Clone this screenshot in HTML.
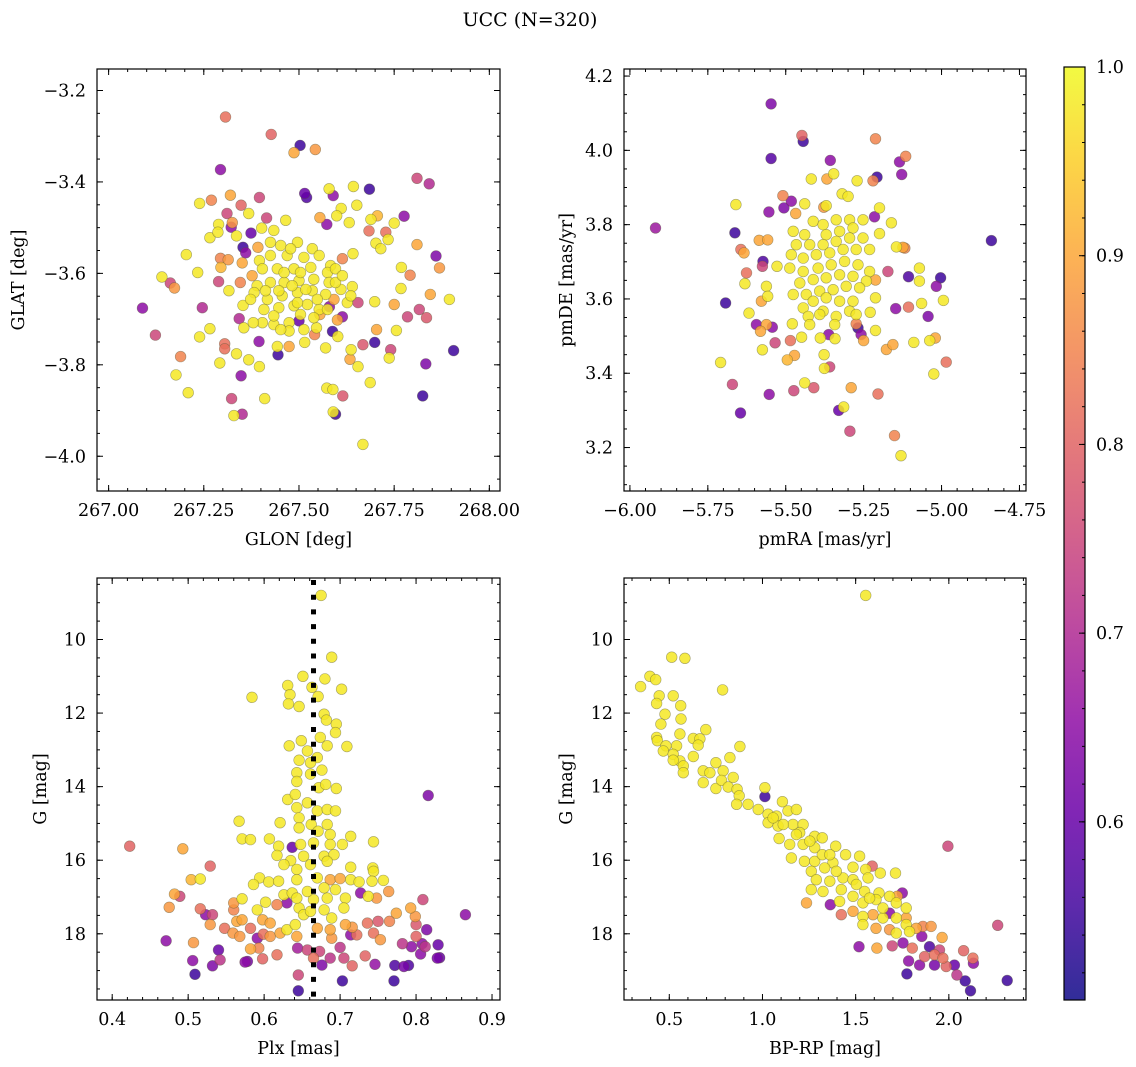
<!DOCTYPE html>
<html><head><meta charset="utf-8"><style>
html,body{margin:0;padding:0;background:#fff;}
svg{display:block;font-family:"DejaVu Serif","Liberation Serif",serif;}
</style></head><body>
<svg id="fig" width="1136" height="1067" viewBox="0 0 1136 1067" xmlns="http://www.w3.org/2000/svg">
<rect width="1136" height="1067" fill="#fff"/>
<text x="530" y="26" font-size="19" text-anchor="middle">UCC (N=320)</text>
<g id="layer"></g>
</svg>
<script>
// ---------- Panel 1: GLON / GLAT ----------
const p1Glon=[267.307,267.427,267.503,267.487,267.543,267.294,267.810,267.842,267.685,267.643,
267.579,267.515,267.520,267.590,267.320,267.270,267.239,267.396,267.348,267.368,
267.311,267.611,267.652,267.599,267.776,267.706,267.689,267.555,267.573,267.632,
267.750,267.289,267.325,267.322,267.415,267.465,267.266,267.287,267.336,267.374,
267.402,267.434,267.684,267.728,267.702,267.734,267.715,267.810,267.860,267.869,
267.769,267.792,267.642,267.614,267.353,267.360,267.392,267.294,267.314,267.295,
267.351,267.396,267.204,267.234,267.140,267.162,267.173,267.289,267.346,267.377,
267.316,267.089,267.246,267.123,267.189,267.177,267.209,267.266,267.239,267.343,
267.355,267.353,267.305,267.305,267.336,267.292,267.368,267.396,267.348,267.323,
267.351,267.329,267.410,267.395,267.445,267.443,267.474,267.404,267.380,267.434,
267.500,267.515,267.541,267.546,267.588,267.602,267.570,267.601,267.614,267.580,
267.555,267.655,267.627,267.640,267.592,267.699,267.750,267.768,267.845,267.895,
267.785,267.816,267.835,267.704,267.756,267.668,267.699,267.741,267.737,267.637,
267.634,267.655,267.906,267.833,267.825,267.687,267.573,267.589,267.615,267.596,
267.590,267.668,
267.452,267.496,267.535,267.425,267.469,267.513,267.553,267.583,267.404,267.443,
267.487,267.531,267.575,267.596,267.390,267.425,267.461,267.500,267.539,267.579,
267.382,267.417,267.456,267.496,267.535,267.570,267.610,267.408,267.447,267.487,
267.522,267.553,267.434,267.474,267.504,267.539,267.474,267.513,267.452,267.482,
267.518,267.447,267.496,267.548,267.412,267.596,267.614,267.461,267.504,267.478,
267.425,267.373,267.636,267.575];
const p1Glat=[-3.258,-3.296,-3.320,-3.336,-3.329,-3.373,-3.392,-3.404,-3.416,-3.410,
-3.415,-3.425,-3.434,-3.430,-3.429,-3.440,-3.447,-3.434,-3.451,-3.469,
-3.469,-3.458,-3.451,-3.474,-3.475,-3.474,-3.482,-3.478,-3.493,-3.489,
-3.490,-3.493,-3.489,-3.499,-3.479,-3.484,-3.522,-3.510,-3.518,-3.512,
-3.501,-3.506,-3.507,-3.510,-3.534,-3.526,-3.546,-3.537,-3.562,-3.588,
-3.587,-3.604,-3.557,-3.568,-3.543,-3.555,-3.543,-3.567,-3.570,-3.587,
-3.577,-3.572,-3.559,-3.598,-3.608,-3.621,-3.632,-3.618,-3.620,-3.605,
-3.638,-3.676,-3.675,-3.735,-3.782,-3.822,-3.861,-3.721,-3.739,-3.699,
-3.719,-3.670,-3.754,-3.765,-3.776,-3.796,-3.789,-3.804,-3.824,-3.874,
-3.908,-3.911,-3.874,-3.749,-3.778,-3.760,-3.760,-3.708,-3.708,-3.712,
-3.704,-3.751,-3.734,-3.719,-3.727,-3.738,-3.763,-3.702,-3.695,-3.673,
-3.690,-3.664,-3.664,-3.629,-3.657,-3.662,-3.668,-3.633,-3.646,-3.657,
-3.695,-3.679,-3.697,-3.723,-3.725,-3.756,-3.751,-3.767,-3.785,-3.767,
-3.788,-3.804,-3.769,-3.798,-3.868,-3.839,-3.851,-3.854,-3.868,-3.908,
-3.903,-3.974,
-3.539,-3.532,-3.546,-3.561,-3.561,-3.565,-3.561,-3.583,-3.590,-3.590,
-3.590,-3.587,-3.598,-3.590,-3.627,-3.620,-3.620,-3.616,-3.613,-3.620,
-3.642,-3.657,-3.649,-3.642,-3.638,-3.646,-3.635,-3.679,-3.675,-3.671,
-3.668,-3.679,-3.693,-3.708,-3.690,-3.697,-3.726,-3.723,-3.723,-3.627,
-3.635,-3.638,-3.664,-3.657,-3.638,-3.620,-3.605,-3.598,-3.598,-3.546,
-3.532,-3.657,-3.649,-3.679];
const p1Prob=[.82,.80,.55,.90,.88,.65,.75,.70,.55,.98,
.98,.60,.57,.65,.90,.85,.98,.75,.80,.98,
.75,.98,.98,.98,.65,.92,.98,.90,.65,.98,
.98,.98,.88,.65,.75,.98,.98,.98,.98,.60,
.98,.98,.82,.82,.98,.98,.98,.90,.63,.88,
.98,.85,.98,.85,.55,.65,.90,.85,.88,.92,
.90,.98,.98,.98,.98,.75,.88,.75,.85,.90,
.98,.65,.70,.75,.85,.98,.98,.98,.98,.70,
.98,.98,.82,.82,.98,.98,.98,.98,.65,.75,
.70,.98,.98,.65,.55,.98,.90,.98,.98,.98,
.60,.98,.85,.98,.55,.98,.98,.90,.65,.65,
.90,.75,.98,.98,.90,.98,.90,.98,.90,.98,
.75,.75,.78,.90,.98,.78,.55,.75,.98,.98,
.90,.98,.55,.63,.55,.98,.98,.98,.78,.55,
.98,.98,
.98,.98,.98,.98,.98,.98,.98,.98,.98,.98,
.98,.98,.98,.98,.98,.98,.98,.98,.98,.98,
.98,.98,.98,.98,.98,.98,.98,.98,.98,.98,
.98,.98,.98,.98,.98,.98,.98,.98,.98,.98,
.98,.98,.98,.98,.98,.98,.98,.98,.98,.98,
.98,.98,.98,.98];
const p1XTicks=[267.00,267.25,267.50,267.75,268.00];
const p1YTicks=[-4.0,-3.8,-3.6,-3.4,-3.2];

// ---------- Panel 2: pmRA / pmDE ----------
const p2PmRA=[-5.547,-5.448,-5.444,-5.547,-5.212,-5.357,-5.115,-5.135,-5.128,-5.207,
-5.220,-5.418,-5.368,-5.346,-5.271,-5.319,-5.300,-5.918,-5.660,-5.663,
-5.509,-5.482,-5.506,-5.439,-5.554,-5.468,-5.378,-5.370,-5.199,-5.215,
-5.161,-5.199,-4.840,-5.585,-5.558,-5.644,-5.634,-5.573,-5.575,-5.626,
-5.631,-5.693,-5.528,-5.578,-5.562,-5.558,-5.618,-5.594,-5.562,-5.543,
-5.581,-5.534,-5.575,-5.485,-5.449,-5.479,-5.472,-5.495,-5.709,-5.671,
-5.645,-5.553,-5.474,-5.439,-5.410,-5.377,-5.359,-5.376,-5.389,-5.342,
-5.362,-5.290,-5.330,-5.314,-5.294,-5.204,-5.151,-5.130,-5.274,-5.268,
-5.258,-5.250,-5.212,-5.177,-5.156,-5.089,-5.038,-5.020,-4.985,-5.025,
-5.106,-5.147,-5.064,-5.043,-4.994,-5.017,-5.003,-5.106,-5.071,-5.071,
-5.172,-5.212,-5.212,-5.229,-5.145,-5.118,-5.124,
-5.476,-5.466,-5.439,-5.412,-5.380,-5.338,-5.295,-5.252,-5.284,-5.327,
-5.370,-5.423,-5.380,-5.338,-5.295,-5.252,-5.231,-5.274,-5.316,-5.359,
-5.402,-5.444,-5.482,-5.487,-5.444,-5.396,-5.354,-5.311,-5.268,-5.231,
-5.241,-5.284,-5.327,-5.370,-5.412,-5.455,-5.476,-5.434,-5.391,-5.348,
-5.306,-5.263,-5.284,-5.327,-5.370,-5.412,-5.444,-5.428,-5.380,-5.338,
-5.295,-5.274,-5.343,-5.423,-5.391];
const p2PmDE=[4.125,4.040,4.024,3.978,4.031,3.973,3.984,3.969,3.935,3.928,
3.918,3.923,3.923,3.937,3.918,3.883,3.876,3.791,3.854,3.778,
3.878,3.863,3.845,3.856,3.834,3.830,3.847,3.851,3.845,3.821,
3.805,3.776,3.757,3.758,3.759,3.733,3.724,3.701,3.688,3.670,
3.641,3.589,3.688,3.594,3.634,3.607,3.562,3.531,3.531,3.524,
3.513,3.482,3.463,3.488,3.497,3.533,3.448,3.436,3.429,3.370,
3.293,3.343,3.353,3.374,3.361,3.450,3.417,3.413,3.495,3.493,
3.504,3.361,3.300,3.309,3.244,3.344,3.232,3.178,3.533,3.522,
3.504,3.488,3.515,3.464,3.477,3.483,3.488,3.495,3.430,3.398,
3.578,3.574,3.588,3.553,3.596,3.634,3.657,3.660,3.683,3.648,
3.674,3.651,3.603,3.564,3.740,3.737,3.739,
3.782,3.746,3.773,3.809,3.800,3.813,3.813,3.813,3.791,3.782,
3.773,3.746,3.746,3.755,3.764,3.764,3.733,3.733,3.733,3.724,
3.719,3.710,3.719,3.683,3.674,3.683,3.692,3.701,3.692,3.674,
3.648,3.661,3.665,3.657,3.652,3.643,3.612,3.612,3.621,3.625,
3.634,3.630,3.594,3.594,3.603,3.594,3.576,3.553,3.567,3.553,
3.567,3.558,3.531,3.531,3.558];
const p2Prob=[.63,.80,.55,.58,.85,.65,.85,.65,.65,.55,
.85,.98,.90,.98,.98,.98,.98,.67,.98,.55,
.85,.65,.63,.98,.65,.90,.88,.98,.98,.65,
.98,.98,.55,.90,.90,.82,.90,.57,.75,.82,
.98,.55,.98,.90,.98,.98,.98,.65,.90,.65,
.90,.75,.98,.82,.98,.98,.90,.92,.98,.75,
.60,.65,.75,.98,.78,.98,.75,.98,.98,.98,
.65,.90,.60,.98,.75,.82,.85,.98,.85,.55,
.65,.90,.98,.90,.90,.98,.98,.90,.82,.98,
.82,.65,.98,.63,.98,.65,.55,.57,.98,.98,
.75,.90,.98,.98,.98,.85,.90,
.98,.98,.98,.98,.98,.98,.98,.98,.98,.98,
.98,.98,.98,.98,.98,.98,.98,.98,.98,.98,
.98,.98,.98,.98,.98,.98,.98,.98,.98,.98,
.98,.98,.98,.98,.98,.98,.98,.98,.98,.98,
.98,.98,.98,.98,.98,.98,.98,.98,.98,.98,
.98,.98,.98,.98,.98];
const p2XTicks=[-6.00,-5.75,-5.50,-5.25,-5.00,-4.75];
const p2YTicks=[3.2,3.4,3.6,3.8,4.0,4.2];

// ---------- Panel 3: Plx / G ----------
const p3Plx=[0.675,0.689,0.651,0.680,0.631,0.663,0.702,0.584,0.634,0.632,
0.646,0.671,0.679,0.682,0.695,0.694,0.674,0.683,0.709,0.633,
0.649,0.657,0.646,0.670,0.661,0.676,0.643,0.661,0.643,0.672,
0.695,0.681,0.816,0.631,0.641,0.657,0.643,0.670,0.683,0.694,
0.646,0.662,0.683,0.567,0.621,0.646,0.671,0.687,0.714,0.571,
0.582,0.607,0.619,0.637,0.648,0.665,0.687,0.703,0.744,0.423,
0.493,0.617,0.635,0.652,0.679,0.692,0.626,0.643,0.661,0.683,
0.529,0.714,0.743,0.744,0.504,0.516,0.594,0.586,0.606,0.619,
0.643,0.670,0.687,0.700,0.714,0.725,0.742,0.757,0.764,0.482,
0.489,0.475,0.516,0.523,0.532,0.529,0.560,0.571,0.560,0.591,
0.602,0.617,0.630,0.626,0.637,0.646,0.665,0.683,0.694,0.707,
0.727,0.737,0.748,0.809,0.793,0.799,0.865,0.774,0.564,0.571,
0.548,0.559,0.568,0.582,0.598,0.608,0.599,0.608,0.591,0.621,
0.630,0.643,0.641,0.652,0.670,0.687,0.689,0.707,0.716,0.689,
0.722,0.736,0.750,0.744,0.753,0.765,0.800,0.814,0.800,0.471,
0.507,0.540,0.506,0.509,0.532,0.542,0.575,0.578,0.582,0.593,
0.598,0.617,0.644,0.657,0.665,0.676,0.673,0.687,0.700,0.705,
0.716,0.733,0.746,0.714,0.782,0.794,0.808,0.812,0.806,0.829,
0.828,0.831,0.772,0.784,0.790,0.771,0.703,0.645,0.645,
0.657,0.679,0.661,0.679,0.705,0.643];
const p3G=[8.80,10.48,11.00,11.07,11.25,11.30,11.35,11.57,11.50,11.75,
11.82,11.55,12.03,12.19,12.30,12.53,12.66,12.89,12.91,12.89,
12.75,13.03,13.28,13.21,13.35,13.55,13.62,13.66,13.86,14.03,
14.05,13.94,14.24,14.35,14.21,14.44,14.57,14.66,14.62,14.66,
14.85,15.03,15.03,14.94,14.98,15.12,15.21,15.30,15.35,15.42,
15.44,15.42,15.62,15.65,15.57,15.53,15.57,15.57,15.50,15.62,
15.69,15.87,16.01,15.89,15.89,15.85,16.12,16.25,16.12,16.03,
16.16,16.19,16.21,16.30,16.53,16.51,16.48,16.66,16.59,16.57,
16.53,16.48,16.53,16.50,16.53,16.59,16.57,16.55,16.85,16.92,
16.98,17.28,17.32,17.48,17.48,17.75,17.16,17.05,17.35,17.35,
17.14,17.21,17.16,16.94,16.89,17.30,17.07,17.03,16.80,17.03,
16.89,16.98,17.03,17.07,17.30,17.53,17.48,17.44,17.66,17.62,
17.85,17.98,18.07,17.85,17.62,17.71,18.01,18.07,18.12,17.98,
17.89,18.07,17.75,17.48,17.85,17.89,18.12,17.75,17.82,17.57,
18.03,17.71,17.66,17.98,18.16,17.66,17.75,17.89,18.07,18.19,
18.24,18.44,18.73,19.10,18.87,18.71,18.77,18.75,18.41,18.39,
18.68,18.57,18.39,18.44,18.66,18.85,18.48,18.66,18.37,18.66,
18.87,18.60,18.83,18.03,18.27,18.35,18.27,18.35,18.55,18.30,
18.66,18.65,18.86,18.89,18.86,19.28,19.28,19.12,19.55,
16.85,16.75,17.39,17.35,17.30,17.03];
const p3Prob=[.98,.98,.98,.98,.98,.98,.98,.98,.98,.98,
.98,.98,.98,.98,.98,.98,.98,.98,.98,.98,
.98,.98,.98,.98,.98,.98,.98,.98,.98,.98,
.98,.98,.63,.98,.98,.98,.98,.98,.98,.98,
.98,.98,.98,.98,.98,.98,.98,.98,.98,.98,
.98,.98,.98,.60,.98,.98,.98,.98,.98,.80,
.90,.98,.98,.98,.98,.98,.98,.98,.98,.98,
.80,.98,.98,.98,.92,.98,.98,.98,.98,.98,
.98,.98,.90,.90,.98,.98,.98,.98,.88,.90,
.75,.88,.82,.65,.75,.88,.88,.98,.85,.98,
.98,.85,.65,.98,.98,.98,.98,.98,.98,.98,
.65,.98,.88,.75,.90,.88,.65,.90,.90,.90,
.82,.88,.88,.82,.90,.90,.82,.88,.65,.90,
.98,.90,.98,.98,.90,.90,.88,.90,.88,.98,
.82,.82,.78,.82,.88,.85,.78,.63,.80,.65,
.88,.60,.65,.55,.63,.72,.65,.62,.90,.85,
.80,.82,.68,.75,.82,.63,.75,.72,.72,.75,
.80,.80,.66,.65,.72,.65,.65,.72,.65,.60,
.62,.60,.57,.62,.57,.55,.55,.75,.55,
.98,.98,.98,.98,.98,.98];
const p3XTicks=[0.4,0.5,0.6,0.7,0.8,0.9];
const p3YTicks=[10,12,14,16,18];
const plxMedian=0.665;

// ---------- Panel 4: BP-RP / G ----------
const p4BpRp=[1.554,0.513,0.584,0.346,0.396,0.427,0.786,0.446,0.521,0.432,
0.561,0.477,0.563,0.455,0.696,0.557,0.432,0.629,0.664,0.436,
0.879,0.482,0.539,0.655,0.468,0.521,0.629,0.557,0.575,0.575,
0.521,0.825,0.750,0.682,0.718,0.789,0.843,0.682,0.750,0.780,
0.816,0.864,0.875,1.013,1.013,0.861,0.923,0.977,1.030,1.107,
1.137,1.182,1.075,1.030,1.084,1.164,1.218,1.200,1.280,1.321,
1.089,1.146,1.218,1.280,1.393,1.446,1.521,1.155,1.225,1.280,
1.321,1.378,1.334,1.262,1.486,1.589,1.554,1.632,1.714,1.995,
1.289,1.361,1.432,1.486,1.566,1.262,1.325,1.423,1.486,1.548,
1.625,1.682,1.750,1.723,1.236,1.364,1.414,1.539,1.609,1.718,
1.771,1.423,1.486,1.539,1.593,1.646,1.682,1.539,1.609,1.682,
1.718,1.771,1.771,1.825,1.861,1.905,1.964,1.855,2.262,1.518,
1.614,1.696,1.754,1.804,1.896,1.950,2.079,2.129,2.132,1.784,
1.843,1.870,1.923,1.923,1.968,1.986,2.030,2.043,1.775,2.088,
2.116,2.313,
1.057,1.111,1.182,1.254,1.361,1.396,1.504,1.575,1.646,1.718,1.789];
const p4G=[8.80,10.48,10.51,11.28,11.00,11.09,11.37,11.53,11.53,11.74,
11.80,12.03,12.16,12.30,12.45,12.57,12.66,12.69,12.70,12.75,
12.91,12.89,12.89,12.87,13.03,13.12,13.18,13.30,13.44,13.62,
13.28,13.21,13.35,13.57,13.62,13.57,13.75,13.89,14.05,13.83,
14.01,14.07,14.25,14.03,14.27,14.48,14.48,14.62,14.75,14.41,
14.66,14.62,14.80,14.98,15.07,15.03,15.03,15.25,15.35,15.39,
15.41,15.57,15.57,15.66,15.62,15.85,15.89,15.94,16.03,16.03,
15.85,16.07,16.21,16.30,16.19,16.16,16.25,16.35,16.35,15.62,
16.53,16.57,16.48,16.53,16.48,16.80,16.85,16.80,16.98,16.85,
16.89,16.98,16.89,16.98,17.16,17.21,17.12,17.16,17.07,17.16,
17.30,17.48,17.39,17.53,17.48,17.57,17.44,17.75,17.85,17.89,
17.98,17.57,17.75,17.85,17.80,17.80,18.10,18.07,17.77,18.35,
18.39,18.33,18.25,18.39,18.35,18.44,18.46,18.66,18.80,18.74,
18.85,18.62,18.85,18.57,18.66,18.89,18.85,19.12,19.09,19.28,
19.55,19.27,
14.85,15.03,15.30,15.48,15.85,16.30,16.66,17.03,17.30,17.57,17.94];
const p4Prob=[.98,.98,.98,.98,.98,.98,.98,.98,.98,.98,
.98,.98,.98,.98,.98,.98,.98,.98,.98,.98,
.98,.98,.98,.98,.98,.98,.98,.98,.98,.98,
.98,.98,.98,.98,.98,.98,.98,.98,.98,.98,
.98,.98,.98,.98,.55,.98,.98,.98,.98,.98,
.98,.98,.98,.98,.98,.98,.98,.98,.98,.98,
.98,.98,.98,.98,.98,.98,.98,.98,.98,.98,
.98,.98,.98,.98,.98,.80,.98,.98,.98,.75,
.98,.98,.98,.98,.98,.98,.98,.98,.98,.98,
.98,.98,.65,.90,.90,.65,.98,.98,.98,.98,
.98,.82,.90,.98,.90,.98,.65,.98,.90,.88,
.98,.90,.98,.90,.85,.88,.90,.65,.75,.65,
.90,.75,.65,.82,.57,.75,.80,.82,.65,.65,
.65,.80,.62,.82,.82,.80,.60,.72,.55,.55,
.55,.55,
.98,.98,.98,.98,.98,.98,.98,.98,.98,.98,.98];
const p4XTicks=[0.5,1.0,1.5,2.0];
const p4YTicks=[10,12,14,16,18];

// ---------- colour bar ----------
const cbTicks=[0.6,0.7,0.8,0.9,1.0];
const cMin=0.5056, cMax=1.0;

const NS="http://www.w3.org/2000/svg";
const layer=document.getElementById('layer');
const plasma=[[13,8,135],[65,4,157],[106,0,168],[143,13,164],[177,42,144],[204,71,120],[225,100,98],[242,132,75],[252,166,54],[252,206,37],[240,249,33]];
function cmap(p){
  let t=(p-cMin)/(cMax-cMin); t=Math.max(0,Math.min(1,t));
  const f=t*10, i=Math.min(9,Math.floor(f)), u=f-i;
  const a=plasma[i], b=plasma[i+1];
  return 'rgb('+a.map((v,k)=>Math.round(v+(b[k]-v)*u)).join(',')+')';
}
function mk(tag,attrs,parent){const e=document.createElementNS(NS,tag);for(const k in attrs)e.setAttribute(k,attrs[k]);(parent||layer).appendChild(e);return e;}
function fmt(v,d){return (v<0?'\u2212':'')+Math.abs(v).toFixed(d);}

function panel(cfg){
  const g=mk('g',{});
  
  
  const sx=v=>cfg.x0+(v-cfg.xmin)/(cfg.xmax-cfg.xmin)*(cfg.x1-cfg.x0);
  const sy=cfg.invert
    ? (v=>cfg.y0+(v-cfg.ymin)/(cfg.ymax-cfg.ymin)*(cfg.y1-cfg.y0))
    : (v=>cfg.y1-(v-cfg.ymin)/(cfg.ymax-cfg.ymin)*(cfg.y1-cfg.y0));
  const clip='clip-'+cfg.name;
  const cp=mk('clipPath',{id:clip},g); mk('rect',{x:cfg.x0,y:cfg.y0,width:cfg.x1-cfg.x0,height:cfg.y1-cfg.y0},cp);
  const pg=mk('g',{'clip-path':'url(#'+clip+')'},g);
  
  
  const idx=cfg.xs.map((_,i)=>i).sort((a,b)=>cfg.ps[a]-cfg.ps[b]);
  idx.forEach(i=>{
    const c=mk('circle',{cx:sx(cfg.xs[i]).toFixed(1),cy:sy(cfg.ys[i]).toFixed(1),r:5.4,fill:cmap(cfg.ps[i]),'fill-opacity':0.85,stroke:'rgba(90,90,60,0.5)','stroke-width':0.6},pg);
    
    
  });
  if(cfg.vline!==undefined){
    const l=mk('line',{x1:sx(cfg.vline),x2:sx(cfg.vline),y1:cfg.y0+2,y2:cfg.y1,stroke:'#000','stroke-width':5,'stroke-dasharray':'5,9.7'},g);
    
    
  }
  mk('rect',{x:cfg.x0,y:cfg.y0,width:cfg.x1-cfg.x0,height:cfg.y1-cfg.y0,fill:'none',stroke:'#000','stroke-width':1.2},g);
  const tk=mk('g',{stroke:'#000','stroke-width':1},g);
  const eps=1e-9;
  for(let v=Math.ceil(cfg.xmin/cfg.xminor-eps)*cfg.xminor; v<=cfg.xmax+eps; v+=cfg.xminor){
    const X=sx(v); if(X<cfg.x0+0.5||X>cfg.x1-0.5) continue;
    mk('line',{x1:X,x2:X,y1:cfg.y1,y2:cfg.y1-3},tk); mk('line',{x1:X,x2:X,y1:cfg.y0,y2:cfg.y0+3},tk);
  }
  for(let v=Math.ceil(cfg.ymin/cfg.yminor-eps)*cfg.yminor; v<=cfg.ymax+eps; v+=cfg.yminor){
    const Y=sy(v); if(Y<cfg.y0+0.5||Y>cfg.y1-0.5) continue;
    mk('line',{x1:cfg.x0,x2:cfg.x0+3,y1:Y,y2:Y},tk); mk('line',{x1:cfg.x1,x2:cfg.x1-3,y1:Y,y2:Y},tk);
  }
  cfg.xticks.forEach(v=>{
    const X=sx(v);
    mk('line',{x1:X,x2:X,y1:cfg.y1,y2:cfg.y1-6},tk); mk('line',{x1:X,x2:X,y1:cfg.y0,y2:cfg.y0+6},tk);
    const t=mk('text',{x:X,y:cfg.y1+25,'font-size':17.5,'text-anchor':'middle'},g); t.textContent=fmt(v,cfg.xd);
    
    
  });
  cfg.yticks.forEach(v=>{
    const Y=sy(v);
    mk('line',{x1:cfg.x0,x2:cfg.x0+6,y1:Y,y2:Y},tk); mk('line',{x1:cfg.x1,x2:cfg.x1-6,y1:Y,y2:Y},tk);
    const t=mk('text',{x:cfg.x0-11,y:Y+6,'font-size':17.5,'text-anchor':'end'},g); t.textContent=fmt(v,cfg.yd);
    
    
  });
  const xl=mk('text',{x:(cfg.x0+cfg.x1)/2,y:cfg.y1+54,'font-size':17.5,'text-anchor':'middle'},g); xl.textContent=cfg.xlabel;
  
  
  const yl=mk('text',{x:0,y:0,'font-size':17.5,'text-anchor':'middle',transform:'translate('+cfg.ylx+','+((cfg.y0+cfg.y1)/2)+') rotate(-90)'},g); yl.textContent=cfg.ylabel;
  
  
}

panel({name:'glon-glat-panel',x0:97,x1:500,y0:69,y1:491,xmin:266.9695,xmax:268.028,ymin:-4.076,ymax:-3.153,
  xs:p1Glon,ys:p1Glat,ps:p1Prob,xticks:p1XTicks,yticks:p1YTicks,xminor:0.05,yminor:0.05,xd:2,yd:1,
  xlabel:'GLON [deg]',ylabel:'GLAT [deg]',ylx:24});
panel({name:'pm-panel',x0:624,x1:1026,y0:69,y1:491,xmin:-6.019,xmax:-4.729,ymin:3.083,ymax:4.219,
  xs:p2PmRA,ys:p2PmDE,ps:p2Prob,xticks:p2XTicks,yticks:p2YTicks,xminor:0.05,yminor:0.05,xd:2,yd:1,
  xlabel:'pmRA [mas/yr]',ylabel:'pmDE [mas/yr]',ylx:572});
panel({name:'plx-g-panel',x0:97,x1:500,y0:578,y1:1000,xmin:0.380,xmax:0.9105,ymin:8.328,ymax:19.80,
  xs:p3Plx,ys:p3G,ps:p3Prob,xticks:p3XTicks,yticks:p3YTicks,xminor:0.02,yminor:0.5,xd:1,yd:0,
  xlabel:'Plx [mas]',ylabel:'G [mag]',ylx:46,vline:plxMedian,invert:true});
panel({name:'cmd-panel',x0:624,x1:1026,y0:578,y1:1000,xmin:0.257,xmax:2.414,ymin:8.328,ymax:19.80,
  xs:p4BpRp,ys:p4G,ps:p4Prob,xticks:p4XTicks,yticks:p4YTicks,xminor:0.1,yminor:0.5,xd:1,yd:0,
  xlabel:'BP-RP [mag]',ylabel:'G [mag]',ylx:572,invert:true});

// colour bar
(function(){
  const cx0=1064,cx1=1085,cy0=67,cy1=1000;
  const cb=mk('g',{});
  
  
  const defs=mk('defs',{},cb);
  const lg=mk('linearGradient',{id:'cbgrad',x1:0,y1:1,x2:0,y2:0},defs);
  for(let k=0;k<=20;k++){
    const p=cMin+(cMax-cMin)*k/20;
    mk('stop',{offset:(k/20).toFixed(3),'stop-color':cmap(p),'stop-opacity':0.85},lg);
  }
  mk('rect',{x:cx0,y:cy0,width:cx1-cx0,height:cy1-cy0,fill:'url(#cbgrad)',stroke:'#000','stroke-width':1.2},cb);
  const sy=v=>cy1-(v-cMin)/(cMax-cMin)*(cy1-cy0);
  const tk=mk('g',{stroke:'#000','stroke-width':1},cb);
  for(let v=0.52; v<1.0-1e-9; v+=0.02){
    const Y=sy(v); mk('line',{x1:cx1,x2:cx1-3,y1:Y,y2:Y},tk);
  }
  cbTicks.forEach(v=>{
    const Y=sy(v);
    mk('line',{x1:cx1,x2:cx1-6,y1:Y,y2:Y},tk);
    const t=mk('text',{x:cx1+11,y:Y+6,'font-size':17.5},cb); t.textContent=v.toFixed(1);
    
    
  });
})();
</script>
</body></html>
